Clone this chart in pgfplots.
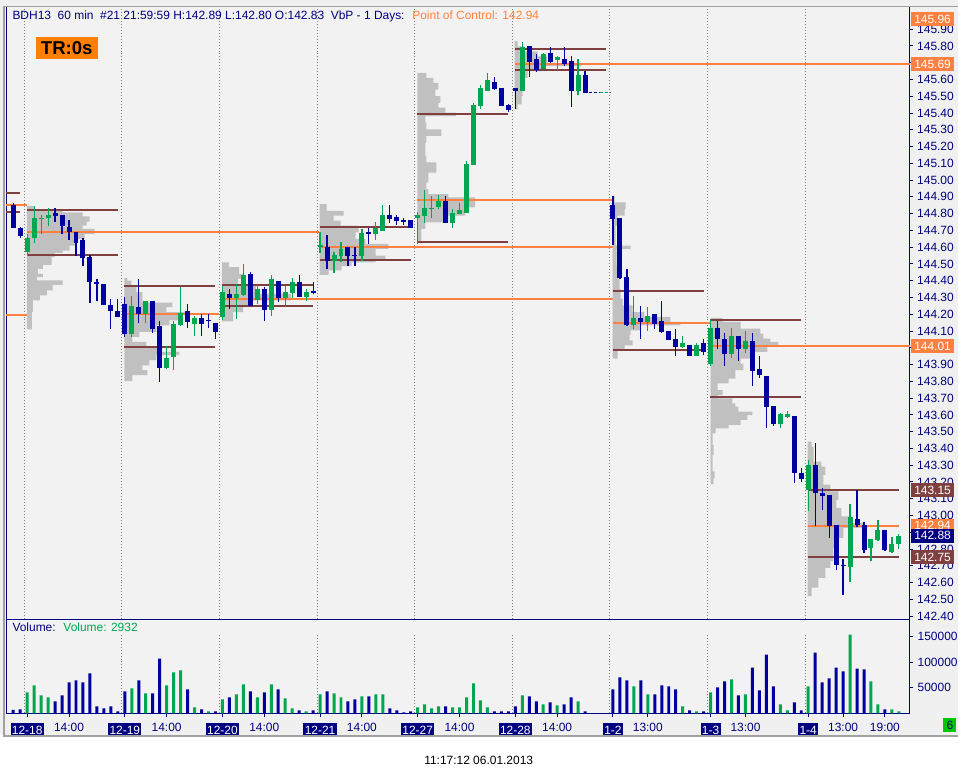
\documentclass[border=0pt]{standalone}
\usepackage{pgfplots}
\pgfplotsset{compat=1.18}
\usepackage{pgfplotstable}
\usepackage{fontspec}
\setmainfont{Liberation Sans}
\definecolor{navyc}{RGB}{0,0,128}
\definecolor{cblue}{RGB}{0,0,160}
\definecolor{cgreen}{RGB}{0,166,80}
\definecolor{profc}{RGB}{192,192,192}
\definecolor{brownc}{RGB}{128,64,64}
\definecolor{orc}{RGB}{255,128,64}
\definecolor{trc}{RGB}{255,128,0}
\definecolor{plotbg}{RGB}{242,242,242}
\definecolor{outbg}{RGB}{240,240,240}
\definecolor{framec}{RGB}{160,160,160}
\definecolor{boxgreen}{RGB}{0,200,0}
\newcommand{\lab}{\fontsize{9pt}{10.8pt}\selectfont}
\newcommand{\dl}[1]{{\setlength{\fboxsep}{1pt}\colorbox{navyc}{\textcolor{white}{\rule[-1.05pt]{0pt}{8.5pt}#1}}}}
\begin{document}
\pgfplotstableread{
n o h l c
2 144.570 144.677 144.546 144.653
3 144.653 144.843 144.623 144.772
4 144.768 144.792 144.677 144.776
5 144.772 144.831 144.728 144.792
17 144.081 144.310 144.063 144.251
19 144.203 144.281 144.150 144.281
22 143.877 144.013 143.871 143.942
23 143.948 144.162 143.865 144.144
24 144.138 144.364 144.132 144.209
26 144.144 144.192 144.073 144.180
30 144.186 144.370 144.168 144.334
32 144.299 144.382 144.174 144.322
33 144.316 144.501 144.308 144.435
35 144.287 144.376 144.263 144.352
37 144.227 144.435 144.192 144.411
39 144.299 144.370 144.245 144.334
40 144.328 144.417 144.299 144.394
42 144.304 144.352 144.281 144.334
44 144.602 144.689 144.566 144.614
46 144.520 144.574 144.445 144.554
47 144.550 144.631 144.510 144.590
50 144.550 144.709 144.520 144.685
52 144.681 144.748 144.645 144.715
53 144.699 144.851 144.699 144.792
58 144.776 144.810 144.619 144.792
59 144.786 144.940 144.744 144.833
60 144.825 144.905 144.774 144.833
61 144.839 144.911 144.827 144.875
63 144.744 144.827 144.715 144.804
64 144.798 144.863 144.798 144.822
65 144.804 145.113 144.804 145.095
66 145.089 145.457 145.089 145.445
67 145.439 145.570 145.422 145.552
68 145.534 145.636 145.534 145.594
73 145.534 145.826 145.534 145.796
76 145.665 145.760 145.665 145.754
78 145.719 145.742 145.659 145.731
81 145.529 145.725 145.505 145.624
89 144.138 144.310 144.114 144.180
91 144.156 144.245 144.102 144.192
96 144.007 144.073 144.001 144.031
98 143.954 144.031 143.954 144.019
100 143.906 144.174 143.894 144.120
103 143.966 144.120 143.942 144.073
105 143.995 144.102 143.972 144.043
110 143.544 143.609 143.520 143.603
111 143.585 143.621 143.580 143.603
114 143.154 143.330 143.025 143.300
120 142.696 143.067 142.601 142.993
123 142.809 142.859 142.726 142.859
124 142.857 142.974 142.851 142.912
126 142.785 142.871 142.774 142.829
127 142.830 142.890 142.800 142.880
}\upc
\pgfplotstableread{
n o h l c
0 144.851 144.863 144.712 144.712
1 144.712 144.722 144.657 144.669
6 144.804 144.831 144.752 144.788
7 144.792 144.792 144.677 144.728
8 144.720 144.762 144.645 144.689
9 144.689 144.689 144.546 144.627
10 144.643 144.653 144.487 144.538
11 144.542 144.554 144.265 144.390
12 144.394 144.411 144.277 144.378
13 144.382 144.382 144.253 144.257
14 144.253 144.289 144.114 144.217
15 144.221 144.293 144.182 144.186
16 144.263 144.304 144.063 144.081
18 144.245 144.411 144.150 144.203
20 144.281 144.281 144.091 144.114
21 144.132 144.162 143.799 143.877
25 144.221 144.263 144.120 144.156
27 144.180 144.203 144.073 144.144
28 144.166 144.203 144.120 144.158
29 144.150 144.150 144.055 144.096
31 144.322 144.352 144.233 144.299
34 144.441 144.453 144.251 144.251
36 144.352 144.364 144.162 144.227
38 144.400 144.400 144.275 144.299
41 144.394 144.435 144.304 144.304
43 144.340 144.394 144.322 144.328
45 144.602 144.673 144.467 144.520
48 144.602 144.602 144.485 144.550
49 144.556 144.602 144.485 144.548
51 144.693 144.715 144.619 144.681
54 144.792 144.851 144.744 144.768
55 144.780 144.792 144.732 144.756
56 144.760 144.774 144.732 144.752
57 144.762 144.762 144.715 144.715
62 144.875 144.905 144.744 144.744
69 145.582 145.612 145.540 145.546
70 145.552 145.552 145.439 145.439
71 145.445 145.451 145.404 145.416
72 145.552 145.552 145.422 145.534
74 145.802 145.802 145.612 145.707
75 145.725 145.754 145.647 145.659
77 145.760 145.796 145.701 145.707
79 145.725 145.796 145.683 145.695
80 145.713 145.742 145.433 145.529
82 145.624 145.653 145.517 145.517
86 144.851 144.905 144.613 144.768
87 144.774 144.774 144.411 144.417
88 144.423 144.471 144.132 144.138
90 144.180 144.251 144.055 144.156
92 144.203 144.203 144.114 144.144
93 144.162 144.281 144.091 144.096
94 144.102 144.102 144.049 144.049
95 144.055 144.114 143.954 144.007
97 144.019 144.019 143.954 143.954
99 144.031 144.055 143.960 143.978
101 144.120 144.162 143.990 144.055
102 144.055 144.091 143.894 143.966
104 144.073 144.073 143.924 143.995
106 144.043 144.091 143.770 143.859
107 143.871 143.954 143.823 143.835
108 143.829 143.829 143.520 143.645
109 143.651 143.651 143.532 143.544
112 143.591 143.591 143.193 143.253
113 143.253 143.282 143.199 143.219
115 143.300 143.431 142.936 143.136
116 143.134 143.164 143.035 143.118
117 143.122 143.122 142.865 142.940
118 142.946 142.946 142.673 142.708
119 142.706 142.738 142.524 142.698
121 142.981 143.154 142.934 142.946
122 142.946 142.960 142.774 142.797
125 142.912 142.912 142.791 142.797
}\downc
\pgfplotstableread{
n v
2 40820
3 54430
4 34990
5 31100
17 48600
19 38880
22 54430
23 79700
24 83590
26 11660
28 3890
30 27220
32 36940
33 56380
35 31100
37 56380
39 29160
40 9720
42 3890
44 36940
46 38880
47 31100
50 33050
52 36940
53 36940
58 11660
59 17500
60 9720
61 13610
63 11660
64 11660
65 31100
66 58320
67 25270
68 11660
73 34990
76 17500
78 15550
81 23330
89 52490
91 36940
96 13610
98 3890
100 40820
103 66100
105 36940
110 17500
111 5830
114 52490
120 153580
123 62210
124 17500
126 7780
127 3890
}\volup
\pgfplotstableread{
n v
0 6480
1 7780
6 23330
7 34990
8 60260
9 64150
10 60260
11 77760
12 13610
13 9720
14 13610
15 3890
16 42770
18 64150
20 38880
21 106920
25 46660
27 7780
29 3890
31 31100
34 42770
36 40820
38 46660
41 5830
43 5830
45 42770
48 23330
49 27220
51 33050
54 9720
55 5830
56 1940
57 3890
62 13610
69 3890
70 3890
71 3890
72 13610
74 33050
75 23330
77 21380
79 17500
80 31100
82 3890
86 46660
87 69980
88 64150
90 64150
92 36940
93 54430
94 52490
95 46660
97 5830
99 3890
101 50540
102 62210
104 34990
106 89420
107 44710
108 114700
109 52490
112 21380
113 5830
115 118580
116 60260
117 68040
118 89420
119 81650
121 87480
122 85540
125 7780
}\voldown
% volume profiles: width (in bar slots) from each day's start, price of band top
\pgfplotstableread{
w p
0 144.847
1.14 144.847
5.14 144.823
8.00 144.808
9.00 144.784
8.57 144.752
8.00 144.728
9.71 144.709
8.29 144.679
7.14 144.649
6.14 144.609
5.14 144.580
4.00 144.566
3.57 144.540
2.29 144.495
1.57 144.471
2.29 144.441
1.43 144.421
5.14 144.402
3.71 144.376
2.86 144.342
1.86 144.312
0.86 144.283
0.71 144.213
0 144.110
}\profA
\pgfplotstableread{
w p
0 144.417
0.43 144.417
1.00 144.401
1.71 144.372
2.57 144.332
6.86 144.269
6.00 144.243
9.29 144.213
7.86 144.194
6.43 144.164
4.57 144.134
2.14 144.095
1.14 144.065
3.14 144.035
5.00 144.006
7.86 143.976
4.57 143.956
3.57 143.926
2.57 143.896
3.29 143.867
1.14 143.837
0 143.801
}\profB
\pgfplotstableread{
w p
0 144.510
1.00 144.510
2.43 144.481
3.00 144.441
2.29 144.412
4.86 144.372
9.86 144.322
4.43 144.283
3.00 144.243
1.57 144.213
0 144.158
}\profC
\pgfplotstableread{
w p
0 144.857
1.00 144.857
3.43 144.817
2.00 144.788
3.00 144.758
5.57 144.728
5.14 144.689
6.57 144.649
9.86 144.619
8.00 144.590
9.43 144.550
8.00 144.530
4.57 144.510
3.14 144.487
1.29 144.461
0 144.435
}\profD
\pgfplotstableread{
w p
0 145.639
1.29 145.639
2.29 145.610
3.00 145.580
2.57 145.540
3.29 145.501
3.00 145.461
4.00 145.432
5.57 145.402
1.14 145.382
1.29 145.342
3.43 145.303
1.29 145.263
1.14 145.224
1.29 145.144
2.71 145.105
1.57 145.045
1.29 144.986
1.57 144.946
4.43 144.917
8.29 144.897
8.29 144.867
6.86 144.837
4.43 144.788
1.14 144.748
0.57 144.709
0 144.629
}\profE
\pgfplotstableread{
w p
0 145.828
0.43 145.828
1.43 145.798
3.29 145.768
4.71 145.738
9.57 145.699
3.86 145.679
1.86 145.649
1.43 145.610
1.14 145.550
1.00 145.501
0.43 145.451
0 145.422
}\profF
\pgfplotstableread{
w p
0 144.907
0.29 144.907
1.86 144.867
1.71 144.827
0.71 144.788
0.43 144.728
2.57 144.609
0.57 144.590
0.71 144.491
1.00 144.411
1.14 144.352
1.43 144.293
2.86 144.253
4.57 144.213
8.29 144.184
9.71 144.154
4.00 144.134
2.57 144.104
2.43 144.075
2.86 144.045
1.71 144.015
0.71 143.986
0 143.936
}\profG
\pgfplotstableread{
w p
0 144.178
1.71 144.178
4.29 144.154
7.14 144.114
7.57 144.085
8.57 144.055
9.71 144.035
8.14 144.005
6.14 143.976
4.29 143.936
4.71 143.906
3.57 143.867
2.57 143.817
1.00 143.788
1.71 143.748
1.00 143.718
3.14 143.698
3.57 143.669
4.00 143.649
6.00 143.619
5.29 143.599
4.29 143.570
2.57 143.540
0.71 143.520
0.29 143.490
0.43 143.421
0.29 143.362
0.57 143.263
0.43 143.223
0 143.187
}\profH
\pgfplotstableread{
w p
0 143.441
0.57 143.441
0.86 143.411
2.00 143.322
2.57 143.292
2.29 143.243
3.29 143.184
4.43 143.144
4.14 143.094
4.86 143.045
6.14 142.995
8.00 142.956
5.14 142.926
4.14 142.867
3.71 142.807
3.71 142.768
3.29 142.728
2.57 142.688
1.57 142.629
0.57 142.570
0 142.520
}\profI
% value-area lines (start, price, length)
\pgfplotstableread{
x y u
-0.97 144.924 1.97
-0.97 144.811 1.97
1.95 144.823 13.05
1.95 144.556 13.05
15.95 144.366 13.05
15.95 144.003 13.05
29.95 144.372 13.05
29.95 144.247 13.05
43.95 144.719 13.05
43.95 144.526 13.05
57.95 145.392 13.05
57.95 144.633 13.05
71.95 145.784 13.05
71.95 145.655 13.05
85.95 144.336 13.05
85.95 143.985 13.05
99.95 144.164 13.05
99.95 143.706 13.05
113.95 143.150 13.05
113.95 142.750 13.05
}\brownlines
\pgfplotstableread{
x y u
-0.97 144.849 2.97
-0.97 144.196 2.97
1.95 144.689 41.9
15.95 144.203 13.6
29.95 144.294 56.05
43.95 144.603 42.05
57.95 144.883 28.05
71.95 145.690 56.6
85.95 144.146 14.05
99.95 144.010 28.6
113.95 142.940 13.05
}\pocl
\begin{tikzpicture}
\begin{scope}[x=0.75pt,y=-0.75pt]
\path[use as bounding box] (0,0) rectangle (962,779);
\fill[white] (0,0) rectangle (962,779);
\fill[outbg] (0,0) rectangle (962,738);
\end{scope}
% ---------- price panel ----------
\begin{axis}[
 at={(4.875pt,-466.275pt)}, anchor=south west, scale only axis,
 width=679.875pt, height=461.25pt,
 xmin=-0.97, xmax=128.53, ymin=142.381, ymax=146.034,
 axis background/.style={fill=plotbg},
 axis line style={navyc, line width=1pt},
 xtick=\empty,
 ytick={142.4,142.5,142.6,142.7,142.8,142.9,143.0,143.1,143.2,143.3,143.4,143.5,143.6,143.7,143.8,143.9,144.0,144.1,144.2,144.3,144.4,144.5,144.6,144.7,144.8,144.9,145.0,145.1,145.2,145.3,145.4,145.5,145.6,145.7,145.8,145.9},
 ytick pos=right, yticklabel pos=right, tick align=outside, major tick length=2.25pt,
 tick style={navyc, line width=0.75pt},
 yticklabel style={/pgf/number format/fixed, /pgf/number format/fixed zerofill, /pgf/number format/precision=2},
 /pgf/number format/assume math mode=true,
 tick label style={font=\lab, text=navyc},
 clip=false,
]
\pgfplotsinvokeforeach{1.57,15.57,29.57,43.57,57.57,71.57,85.57,99.57,113.57}{
 \draw[gray, line width=0.75pt, dash pattern=on 0.75pt off 1.5pt] (axis cs:#1,142.381) -- (axis cs:#1,146.034);
}
\addplot[const plot mark right, fill=profc, draw=none] table[x expr=\thisrow{w}+1.95, y=p] {\profA};
\addplot[const plot mark right, fill=profc, draw=none] table[x expr=\thisrow{w}+15.95, y=p] {\profB};
\addplot[const plot mark right, fill=profc, draw=none] table[x expr=\thisrow{w}+29.95, y=p] {\profC};
\addplot[const plot mark right, fill=profc, draw=none] table[x expr=\thisrow{w}+43.95, y=p] {\profD};
\addplot[const plot mark right, fill=profc, draw=none] table[x expr=\thisrow{w}+57.95, y=p] {\profE};
\addplot[const plot mark right, fill=profc, draw=none] table[x expr=\thisrow{w}+71.9, y=p] {\profF};
\addplot[const plot mark right, fill=profc, draw=none] table[x expr=\thisrow{w}+85.95, y=p] {\profG};
\addplot[const plot mark right, fill=profc, draw=none] table[x expr=\thisrow{w}+100, y=p] {\profH};
\addplot[const plot mark right, fill=profc, draw=none] table[x expr=\thisrow{w}+113.9, y=p] {\profI};
\addplot[brownc, line width=1.5pt, quiver={u=\thisrow{u}, v=0}] table[x=x, y=y] {\brownlines};
\addplot[orc, line width=1.5pt, quiver={u=\thisrow{u}, v=0}] table[x=x, y=y] {\pocl};
% candles
\addplot[cgreen, line width=0.9pt, quiver={u=0, v=\thisrow{h}-\thisrow{l}}] table[x=n, y=l] {\upc};
\addplot[cblue, line width=0.9pt, quiver={u=0, v=\thisrow{h}-\thisrow{l}}] table[x=n, y=l] {\downc};
\addplot[cgreen, line width=3.75pt, quiver={u=0, v=\thisrow{c}-\thisrow{o}}] table[x=n, y=o] {\upc};
\addplot[cblue, line width=3.75pt, quiver={u=0, v=\thisrow{c}-\thisrow{o}}] table[x=n, y=o] {\downc};
\addplot[cblue, line width=0.75pt, dash pattern=on 2.25pt off 1.5pt] coordinates {(82.6,145.523) (84.1,145.523)};
\addplot[cgreen, line width=0.75pt, dash pattern=on 2.25pt off 1.5pt] coordinates {(84.1,145.523) (85.6,145.523)};
% right-hand price boxes
\tikzset{lbox/.style={anchor=west, xshift=0.75pt, text=white, font=\lab, inner xsep=2.6pt, inner ysep=0pt, minimum height=10.5pt}}
\node[lbox, fill=orc] at (axis cs:128.53,145.96) {145.96};
\node[lbox, fill=orc] at (axis cs:128.53,145.69) {145.69};
\node[lbox, fill=orc] at (axis cs:128.53,144.01) {144.01};
\node[lbox, fill=brownc] at (axis cs:128.53,143.15) {143.15};
\node[lbox, fill=orc] at (axis cs:128.53,142.94) {142.94};
\node[lbox, fill=navyc] at (axis cs:128.53,142.88) {142.88};
\node[lbox, fill=brownc] at (axis cs:128.53,142.75) {142.75};
\end{axis}
% ---------- volume panel ----------
\begin{axis}[
 at={(4.875pt,-537pt)}, anchor=south west, scale only axis,
 width=679.875pt, height=70.725pt,
 xmin=-0.97, xmax=128.53, ymin=0, ymax=183460,
 axis background/.style={fill=plotbg},
 axis line style={navyc, line width=1pt},
 xtick={2,8,16,22,30,36,44,50,58,64,72,78,86,91,100,105,114,119,125},
 xticklabels={\dl{12-18},14:00,\dl{12-19},14:00,\dl{12-20},14:00,\dl{12-21},14:00,\dl{12-27},14:00,\dl{12-28},14:00,\dl{1-2},13:00,\dl{1-3},13:00,\dl{1-4},13:00,19:00},
 xtick pos=bottom,
 ytick={50000,100000,150000}, scaled y ticks=false,
 ytick pos=right, yticklabel pos=right, tick align=outside, major tick length=2.6pt,
 tick style={navyc, line width=0.75pt},
 yticklabel style={/pgf/number format/fixed, /pgf/number format/set thousands separator={}},
 /pgf/number format/assume math mode=true,
 tick label style={font=\lab, text=navyc},
 xticklabel style={inner sep=1pt, yshift=-3.75pt},
]
\pgfplotsinvokeforeach{1.57,15.57,29.57,43.57,57.57,71.57,85.57,99.57,113.57}{
 \draw[gray, line width=0.75pt, dash pattern=on 0.75pt off 1.5pt] (axis cs:#1,0) -- (axis cs:#1,152000);
}
\addplot[ybar, bar width=2.25pt, bar shift=0pt, fill=cgreen, draw=none] table[x=n, y=v] {\volup};
\addplot[ybar, bar width=2.25pt, bar shift=0pt, fill=cblue, draw=none] table[x=n, y=v] {\voldown};
\end{axis}
% ---------- frame and texts ----------
\begin{scope}[x=0.75pt,y=-0.75pt]
\draw[framec, line width=1.1pt] (5,6.4) -- (962,6.4);
\fill[framec] (3,6) rectangle (5,738);
\draw[framec, line width=1.5pt] (3,739) -- (962,739);
\node[anchor=base west, inner sep=0pt, font=\lab, text=navyc] at (12.3,20) {BDH13~ 60 min~ \#21 21:59:59 H:142.89 L:142.80 O:142.83~ VbP - 1 Days:~ \textcolor{orc}{Point of Control: 142.94}};
\fill[trc] (36,37) rectangle (98,59);
\node[font=\fontsize{14pt}{16pt}\selectfont\bfseries, text=black] at (67,48) {TR:0s};
\node[anchor=base west, inner sep=0pt, font=\lab, text=navyc] at (12.3,634) {Volume:~ \textcolor{cgreen}{Volume: 2932}};
\fill[boxgreen] (947,721) rectangle (960,735);
\node[font=\lab, text=navyc] at (953.5,728) {6};
\node[anchor=base, inner sep=0pt, font=\lab, text=black] at (480.5,767) {11:17:12 06.01.2013};
\end{scope}
\end{tikzpicture}
\end{document}
